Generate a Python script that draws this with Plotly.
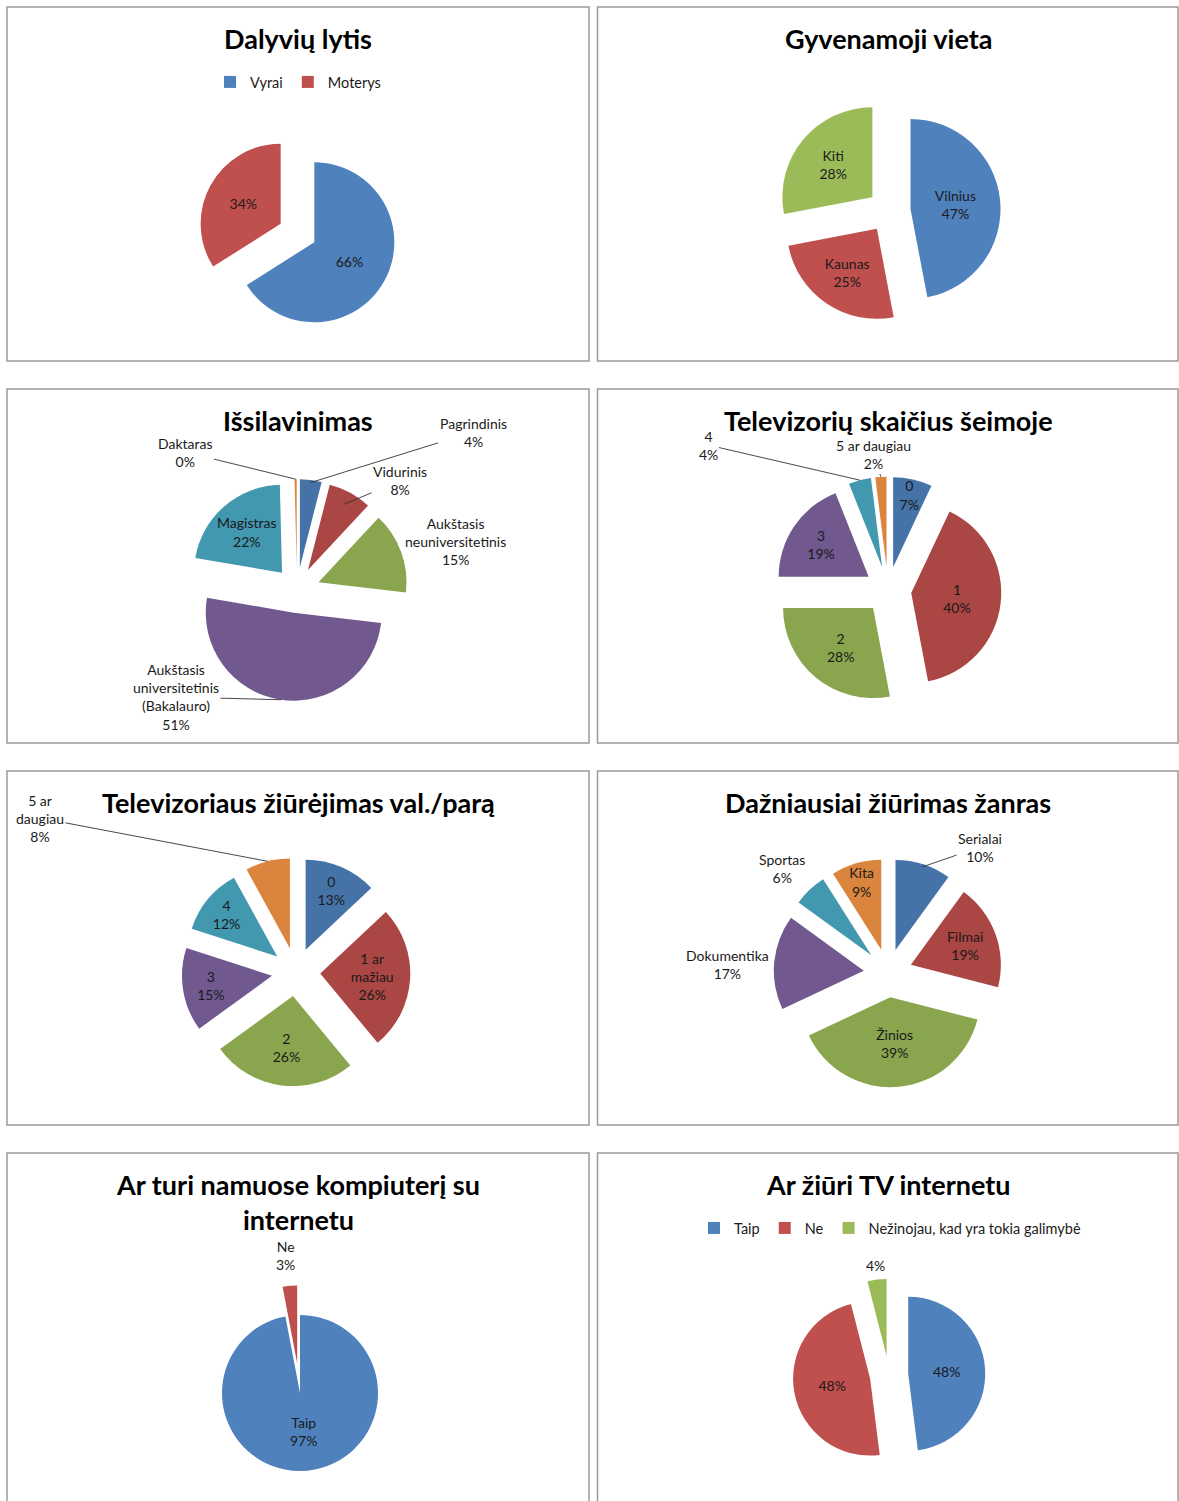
import math
import plotly.graph_objects as go

W, H = 1179, 1501

# ---------------- data ----------------
lytis_labels = ["Vyrai", "Moterys"]
lytis_values = [66, 34]

vieta_labels = ["Vilnius", "Kaunas", "Kiti"]
vieta_values = [47, 25, 28]

issil_labels = ["Pagrindinis", "Vidurinis", "Aukštasis<br>neuniversitetinis",
                "Aukštasis<br>universitetinis<br>(Bakalauro)", "Magistras", "Daktaras"]
issil_values = [4, 8, 15, 51, 22, 0.4]

tvsk_labels = ["0", "1", "2", "3", "4", "5 ar daugiau"]
tvsk_values = [7, 40, 28, 19, 4, 2]

val_labels = ["0", "1 ar<br>mažiau", "2", "3", "4", "5 ar<br>daugiau"]
val_values = [13, 26, 26, 15, 12, 8]

zanr_labels = ["Serialai", "Filmai", "Žinios", "Dokumentika", "Sportas", "Kita"]
zanr_values = [10, 19, 39, 17, 6, 9]

komp_labels = ["Taip", "Ne"]
komp_values = [97, 3]

tvint_labels = ["Taip", "Ne", "Nežinojau, kad yra tokia galimybė"]
tvint_values = [48, 48, 4]

titles = ["Dalyvių lytis", "Gyvenamoji vieta", "Išsilavinimas",
          "Televizorių skaičius šeimoje", "Televizoriaus žiūrėjimas val./parą",
          "Dažniausiai žiūrimas žanras", "Ar turi namuose kompiuterį su<br>internetu",
          "Ar žiūri TV internetu"]

# ---------------- styles ----------------
STD = ["#4F81BD", "#C0504D", "#9BBB59", "#8064A2", "#4BACC6", "#F79646"]
DARK = ["#4572A7", "#AA4643", "#89A54E", "#71588F", "#4198AF", "#DB843D"]
FONT = "Lato, Carlito, Calibri, sans-serif"
TXT = "#1a1a1a"
LBL = 14


def px_x(x):
    return x / W


def px_y(y):
    return 1 - y / H


def domain(cx, cy, r, pull):
    half = r * (1 + pull)
    return dict(x=[max(0, px_x(cx - half)), min(1, px_x(cx + half))],
                y=[max(0, px_y(cy + half)), min(1, px_y(cy - half))])


# outside labels: (slice index, label centre px, draw leader, leader frac of radius)
charts = [
    dict(labels=lytis_labels, values=lytis_values, colors=STD, c=(297.5, 233), r=80,
         pull=[0.24, 0.24], tmpl="%{percent:.0%}", legend="legend", outside=[]),
    dict(labels=vieta_labels, values=vieta_values, colors=STD, c=(889, 211), r=90,
         pull=[0.24] * 3, tmpl="%{label}<br>%{percent:.0%}", outside=[]),
    dict(labels=issil_labels, values=issil_values, colors=DARK, c=(297, 590), r=88,
         pull=[0.26] * 6, tmpl="%{label}<br>%{percent:.0%}",
         outside=[(0, (473, 432), True, 0.97), (1, (400, 481), True, 0.85),
                  (2, (455, 541), False, 1), (3, (176, 697), True, 1.0),
                  (5, (185, 452), True, 1.0)]),
    dict(labels=tvsk_labels, values=tvsk_values, colors=DARK, c=(888, 590), r=90,
         pull=[0.26] * 6, tmpl="%{label}<br>%{percent:.0%}",
         outside=[(4, (708, 445), True, 1.0), (5, (873, 455), True, 1.0)]),
    dict(labels=val_labels, values=val_values, colors=DARK, c=(296, 972), r=90,
         pull=[0.27] * 6, tmpl="%{label}<br>%{percent:.0%}",
         outside=[(5, (40, 818), True, 1.0)]),
    dict(labels=zanr_labels, values=zanr_values, colors=DARK, c=(888, 973), r=90,
         pull=[0.27] * 6, tmpl="%{label}<br>%{percent:.0%}",
         outside=[(0, (980, 847), True, 0.97), (3, (727, 964), False, 1),
                  (4, (782, 868), False, 1)]),
    dict(labels=komp_labels, values=komp_values, colors=STD, c=(300, 1393), r=78,
         pull=[0, 0.38], tmpl="%{label}<br>%{percent:.0%}",
         outside=[(1, (285, 1255), False, 1)]),
    dict(labels=tvint_labels, values=tvint_values, colors=STD, c=(889, 1375), r=77,
         pull=[0.25] * 3, tmpl="%{percent:.0%}", legend="legend2",
         outside=[(2, (875, 1265), False, 1)], pct_only=True),
]

BL, BR = 7, 1178
boxes = [(BL, BL, 589, 361), (597.5, BL, BR, 361),
         (BL, 389, 589, 743), (597.5, 389, BR, 743),
         (BL, 771, 589, 1125), (597.5, 771, BR, 1125),
         (BL, 1153, 589, 1530), (597.5, 1153, BR, 1530)]
title_pos = [(298, 38), (888, 38), (298, 420), (888, 420),
             (298, 802), (888, 802), (298, 1201.5), (888, 1184)]

fig = go.Figure()
annotations = []
for ch in charts:
    cx, cy = ch["c"]
    n = len(ch["values"])
    out_idx = {o[0] for o in ch["outside"]}
    pos = ["none" if i in out_idx else "inside" for i in range(n)]
    fig.add_trace(go.Pie(
        labels=ch["labels"], values=ch["values"], sort=False, direction="clockwise",
        rotation=0, pull=ch["pull"], domain=domain(cx, cy, ch["r"], max(ch["pull"])),
        marker=dict(colors=ch["colors"][:n], line=dict(width=0)),
        texttemplate=ch["tmpl"], textposition=pos,
        insidetextorientation="horizontal",
        textfont=dict(family=FONT, size=LBL, color=TXT),
        showlegend="legend" in ch, legend=ch.get("legend", "legend"),
        hoverinfo="label+percent",
    ))
    # outside data labels (with leader lines where the reference has them)
    total = sum(ch["values"])
    cum = 0.0
    mids = []
    for v in ch["values"]:
        mids.append((cum + v / 2) / total * 2 * math.pi)
        cum += v
    for idx, (lx, ly), leader, frac in ch["outside"]:
        th = mids[idx]
        dx, dy = math.sin(th), -math.cos(th)
        dist = ch["r"] * (ch["pull"][idx] + frac)
        hx, hy = cx + dist * dx, cy + dist * dy
        pct = "%d%%" % round(ch["values"][idx] / total * 100)
        text = pct if ch.get("pct_only") else ch["labels"][idx] + "<br>" + pct
        if leader:
            annotations.append(dict(
                text=text, x=px_x(hx), y=px_y(hy), xref="paper", yref="paper",
                ax=lx - hx, ay=ly - hy, axref="pixel", ayref="pixel",
                showarrow=True, arrowhead=0, arrowwidth=0.9, arrowcolor="#333",
                xanchor="center", yanchor="middle", align="center",
                font=dict(family=FONT, size=LBL, color=TXT)))
        else:
            annotations.append(dict(
                text=text, x=px_x(lx), y=px_y(ly), xref="paper", yref="paper",
                showarrow=False, xanchor="center", yanchor="middle", align="center",
                font=dict(family=FONT, size=LBL, color=TXT)))

shapes = [dict(type="rect", xref="paper", yref="paper",
               x0=px_x(b[0]), x1=px_x(b[2]), y0=px_y(b[3]), y1=px_y(b[1]),
               line=dict(color="#9a9a9a", width=1.5), fillcolor="rgba(0,0,0,0)",
               layer="below") for b in boxes]

annotations += [dict(text=t, x=px_x(p[0]), y=px_y(p[1]), xref="paper", yref="paper",
                     showarrow=False, xanchor="center", yanchor="middle",
                     font=dict(family=FONT, size=27, color="#000", weight="bold"))
                for t, p in zip(titles, title_pos)]

fig.update_layout(
    width=W, height=H, margin=dict(l=0, r=0, t=0, b=0),
    paper_bgcolor="white", plot_bgcolor="white",
    shapes=shapes, annotations=annotations,
    uniformtext=dict(minsize=LBL, mode="show"),
    legend=dict(orientation="h", x=px_x(298), y=px_y(82), xanchor="center",
                yanchor="middle", font=dict(family=FONT, size=14.5, color=TXT),
                itemwidth=30, bgcolor="rgba(0,0,0,0)"),
    legend2=dict(orientation="h", x=px_x(890), y=px_y(1228), xanchor="center",
                 yanchor="middle", font=dict(family=FONT, size=14.5, color=TXT),
                 itemwidth=30, bgcolor="rgba(0,0,0,0)"),
)

# remove the browser's default body margin so the figure fills the window exactly
fig.write_html("out.html", config={"displayModeBar": False},
               post_script="document.body.style.margin='0';"
                           "document.documentElement.style.overflow='hidden';")
